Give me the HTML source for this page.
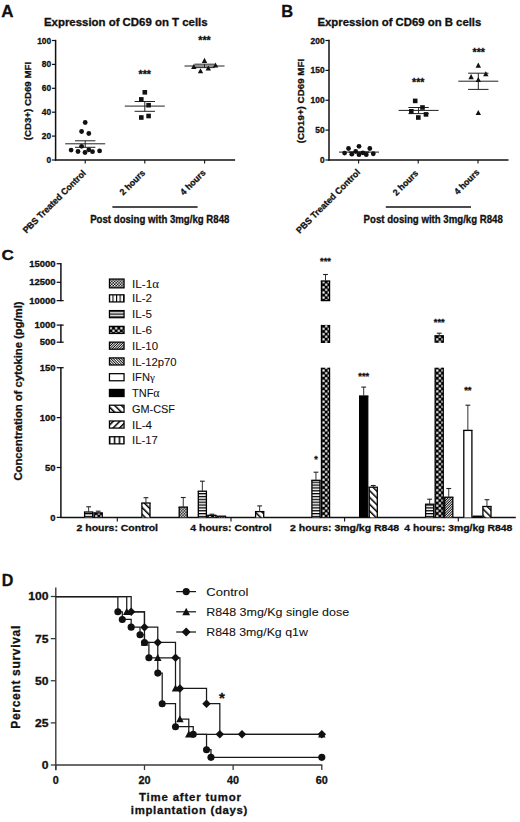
<!DOCTYPE html>
<html><head><meta charset="utf-8"><title>Figure</title>
<style>
html,body{margin:0;padding:0;background:#fff;}
svg{display:block;}
text{font-family:"Liberation Sans", sans-serif;}
text[font-weight="bold"]{stroke:#111;stroke-width:0.3px;}
text[font-weight="normal"]{stroke:#111;stroke-width:0.08px;}
</style></head>
<body>
<svg width="520" height="822" viewBox="0 0 520 822" font-family="Liberation Sans, sans-serif" fill="#111">
<rect width="520" height="822" fill="#fff"/>

<defs>
 <pattern id="pIL1" patternUnits="userSpaceOnUse" width="2.85" height="2.85">
  <rect width="2.85" height="2.85" fill="#000"/>
  <rect x="0" y="0" width="1.45" height="1.45" fill="#fff"/>
  <rect x="1.425" y="1.425" width="1.45" height="1.45" fill="#fff"/>
 </pattern>
 <pattern id="pIL2" patternUnits="userSpaceOnUse" x="2.09" width="3.56" height="4">
  <rect width="3.56" height="4" fill="#fff"/>
  <rect x="0" y="0" width="1.1" height="4" fill="#000"/>
 </pattern>
 <pattern id="pIL5" patternUnits="userSpaceOnUse" width="4" height="2.85">
  <rect width="4" height="2.85" fill="#fff"/>
  <rect x="0" y="0" width="4" height="1.3" fill="#000"/>
 </pattern>
 <pattern id="pIL6" patternUnits="userSpaceOnUse" width="5.3" height="5.2">
  <rect width="5.3" height="5.2" fill="#000"/>
  <rect x="0.25" y="0.25" width="2.15" height="2.1" fill="#fff"/>
  <rect x="2.9" y="2.85" width="2.15" height="2.1" fill="#fff"/>
 </pattern>
 <pattern id="pIL10" patternUnits="userSpaceOnUse" width="1.75" height="4" patternTransform="rotate(45)">
  <rect width="1.75" height="4" fill="#fff"/>
  <rect x="0" y="0" width="0.85" height="4" fill="#000"/>
 </pattern>
 <pattern id="pIL12" patternUnits="userSpaceOnUse" width="1.85" height="4" patternTransform="rotate(-45)">
  <rect width="1.85" height="4" fill="#fff"/>
  <rect x="0" y="0" width="0.85" height="4" fill="#000"/>
 </pattern>
 <pattern id="pGM" patternUnits="userSpaceOnUse" width="4.8" height="4.8" patternTransform="rotate(-45)">
  <rect width="4.8" height="4.8" fill="#fff"/>
  <rect x="0" y="0" width="1.5" height="4.8" fill="#000"/>
 </pattern>
 <pattern id="pIL4" patternUnits="userSpaceOnUse" width="4.6" height="4.6" patternTransform="rotate(45)">
  <rect width="4.6" height="4.6" fill="#fff"/>
  <rect x="0" y="0" width="1.5" height="4.6" fill="#000"/>
 </pattern>
 <pattern id="pIL17" patternUnits="userSpaceOnUse" x="1.05" width="4.9" height="4">
  <rect width="4.9" height="4" fill="#fff"/>
  <rect x="0" y="0" width="1.5" height="4" fill="#000"/>
 </pattern>
</defs>

<defs><pattern id="pIL6g0" patternUnits="userSpaceOnUse" x="94.90" y="0.00" width="5.3" height="5.2">
  <rect width="5.3" height="5.2" fill="#000"/>
  <rect x="0.25" y="0.25" width="2.15" height="2.1" fill="#fff"/>
  <rect x="2.9" y="2.85" width="2.15" height="2.1" fill="#fff"/>
 </pattern><pattern id="pIL6g1" patternUnits="userSpaceOnUse" x="208.60" y="0.00" width="5.3" height="5.2">
  <rect width="5.3" height="5.2" fill="#000"/>
  <rect x="0.25" y="0.25" width="2.15" height="2.1" fill="#fff"/>
  <rect x="2.9" y="2.85" width="2.15" height="2.1" fill="#fff"/>
 </pattern><pattern id="pIL6g2" patternUnits="userSpaceOnUse" x="322.20" y="0.00" width="5.3" height="5.2">
  <rect width="5.3" height="5.2" fill="#000"/>
  <rect x="0.25" y="0.25" width="2.15" height="2.1" fill="#fff"/>
  <rect x="2.9" y="2.85" width="2.15" height="2.1" fill="#fff"/>
 </pattern><pattern id="pIL6g3" patternUnits="userSpaceOnUse" x="435.90" y="0.00" width="5.3" height="5.2">
  <rect width="5.3" height="5.2" fill="#000"/>
  <rect x="0.25" y="0.25" width="2.15" height="2.1" fill="#fff"/>
  <rect x="2.9" y="2.85" width="2.15" height="2.1" fill="#fff"/>
 </pattern><pattern id="pIL6leg" patternUnits="userSpaceOnUse" x="109.50" y="326.96" width="5.3" height="5.2">
  <rect width="5.3" height="5.2" fill="#000"/>
  <rect x="0.25" y="0.25" width="2.15" height="2.1" fill="#fff"/>
  <rect x="2.9" y="2.85" width="2.15" height="2.1" fill="#fff"/>
 </pattern></defs>
<text x="1.20" y="16.60" font-size="17" font-weight="bold">A</text>
<line x1="55.60" y1="39.80" x2="55.60" y2="160.75" stroke="#111" stroke-width="1.5"/>
<line x1="55.00" y1="160.00" x2="235.10" y2="160.00" stroke="#111" stroke-width="1.5"/>
<line x1="52.00" y1="160.00" x2="55.60" y2="160.00" stroke="#111" stroke-width="1.2"/>
<text x="51.20" y="163.00" font-size="8.4" font-weight="bold" text-anchor="end">0</text>
<line x1="52.00" y1="136.10" x2="55.60" y2="136.10" stroke="#111" stroke-width="1.2"/>
<text x="51.20" y="139.10" font-size="8.4" font-weight="bold" text-anchor="end">20</text>
<line x1="52.00" y1="112.20" x2="55.60" y2="112.20" stroke="#111" stroke-width="1.2"/>
<text x="51.20" y="115.20" font-size="8.4" font-weight="bold" text-anchor="end">40</text>
<line x1="52.00" y1="88.30" x2="55.60" y2="88.30" stroke="#111" stroke-width="1.2"/>
<text x="51.20" y="91.30" font-size="8.4" font-weight="bold" text-anchor="end">60</text>
<line x1="52.00" y1="64.40" x2="55.60" y2="64.40" stroke="#111" stroke-width="1.2"/>
<text x="51.20" y="67.40" font-size="8.4" font-weight="bold" text-anchor="end">80</text>
<line x1="52.00" y1="40.50" x2="55.60" y2="40.50" stroke="#111" stroke-width="1.2"/>
<text x="51.20" y="43.50" font-size="8.4" font-weight="bold" text-anchor="end">100</text>
<line x1="85.20" y1="160.00" x2="85.20" y2="163.40" stroke="#111" stroke-width="1.1"/>
<line x1="144.80" y1="160.00" x2="144.80" y2="163.40" stroke="#111" stroke-width="1.1"/>
<line x1="204.60" y1="160.00" x2="204.60" y2="163.40" stroke="#111" stroke-width="1.1"/>
<text x="44.00" y="26.20" font-size="10.3" font-weight="bold" textLength="163.60" lengthAdjust="spacingAndGlyphs">Expression of CD69 on T cells</text>
<text x="31.00" y="101.10" font-size="9.8" font-weight="bold" text-anchor="middle" textLength="78.50" lengthAdjust="spacingAndGlyphs" transform="rotate(-90 31.00 101.10)">(CD3+) CD69 MFI</text>
<text x="86.40" y="173.80" font-size="9.0" font-weight="bold" text-anchor="end" textLength="84.80" lengthAdjust="spacingAndGlyphs" transform="rotate(-45 86.40 173.80)">PBS Treated Control</text>
<text x="145.60" y="173.50" font-size="9.0" font-weight="bold" text-anchor="end" textLength="31.60" lengthAdjust="spacingAndGlyphs" transform="rotate(-45 145.60 173.50)">2 hours</text>
<text x="206.20" y="173.30" font-size="9.0" font-weight="bold" text-anchor="end" textLength="31.60" lengthAdjust="spacingAndGlyphs" transform="rotate(-45 206.20 173.30)">4 hours</text>
<line x1="112.40" y1="207.00" x2="197.60" y2="207.00" stroke="#111" stroke-width="1.3"/>
<text x="90.20" y="223.00" font-size="10.0" font-weight="bold" textLength="139.20" lengthAdjust="spacingAndGlyphs">Post dosing with 3mg/kg R848</text>
<line x1="65.20" y1="143.80" x2="105.20" y2="143.80" stroke="#222" stroke-width="1.0"/>
<line x1="75.00" y1="140.80" x2="95.40" y2="140.80" stroke="#222" stroke-width="1.0"/>
<line x1="75.00" y1="147.30" x2="95.40" y2="147.30" stroke="#222" stroke-width="1.0"/>
<line x1="85.20" y1="140.80" x2="85.20" y2="147.30" stroke="#222" stroke-width="1.0"/>
<line x1="124.80" y1="106.10" x2="164.80" y2="106.10" stroke="#222" stroke-width="1.0"/>
<line x1="134.60" y1="101.50" x2="155.00" y2="101.50" stroke="#222" stroke-width="1.0"/>
<line x1="134.60" y1="111.30" x2="155.00" y2="111.30" stroke="#222" stroke-width="1.0"/>
<line x1="144.80" y1="101.50" x2="144.80" y2="111.30" stroke="#222" stroke-width="1.0"/>
<line x1="184.50" y1="66.00" x2="224.50" y2="66.00" stroke="#222" stroke-width="1.0"/>
<line x1="194.30" y1="64.20" x2="214.70" y2="64.20" stroke="#222" stroke-width="1.0"/>
<line x1="194.30" y1="67.60" x2="214.70" y2="67.60" stroke="#222" stroke-width="1.0"/>
<line x1="204.50" y1="64.20" x2="204.50" y2="67.60" stroke="#222" stroke-width="1.0"/>
<text x="144.80" y="78.40" font-size="10.0" font-weight="bold" text-anchor="middle" textLength="12.40" lengthAdjust="spacingAndGlyphs">***</text>
<text x="204.50" y="44.30" font-size="10.0" font-weight="bold" text-anchor="middle" textLength="12.40" lengthAdjust="spacingAndGlyphs">***</text>
<circle cx="85.20" cy="122.50" r="2.4" fill="#111"/>
<circle cx="81.60" cy="131.50" r="2.4" fill="#111"/>
<circle cx="88.80" cy="133.50" r="2.4" fill="#111"/>
<circle cx="81.60" cy="146.30" r="2.4" fill="#111"/>
<circle cx="71.10" cy="150.10" r="2.4" fill="#111"/>
<circle cx="78.00" cy="151.50" r="2.4" fill="#111"/>
<circle cx="85.00" cy="152.50" r="2.4" fill="#111"/>
<circle cx="88.80" cy="149.80" r="2.4" fill="#111"/>
<circle cx="92.50" cy="151.70" r="2.4" fill="#111"/>
<circle cx="99.60" cy="150.90" r="2.4" fill="#111"/>
<rect x="142.50" y="90.00" width="4.60" height="4.60" fill="#111"/>
<rect x="139.00" y="97.10" width="4.60" height="4.60" fill="#111"/>
<rect x="146.30" y="102.90" width="4.60" height="4.60" fill="#111"/>
<rect x="139.00" y="115.20" width="4.60" height="4.60" fill="#111"/>
<rect x="146.30" y="113.70" width="4.60" height="4.60" fill="#111"/>
<path d="M204.50 57.78 L207.20 62.91 L201.80 62.91 Z" fill="#111"/>
<path d="M193.80 63.88 L196.50 69.01 L191.10 69.01 Z" fill="#111"/>
<path d="M200.50 68.18 L203.20 73.31 L197.80 73.31 Z" fill="#111"/>
<path d="M208.30 65.48 L211.00 70.61 L205.60 70.61 Z" fill="#111"/>
<path d="M215.50 62.38 L218.20 67.51 L212.80 67.51 Z" fill="#111"/>
<text x="281.20" y="17.00" font-size="16.5" font-weight="bold">B</text>
<line x1="329.00" y1="39.80" x2="329.00" y2="160.75" stroke="#111" stroke-width="1.5"/>
<line x1="328.40" y1="160.00" x2="508.50" y2="160.00" stroke="#111" stroke-width="1.5"/>
<line x1="325.40" y1="160.00" x2="329.00" y2="160.00" stroke="#111" stroke-width="1.2"/>
<text x="324.60" y="163.00" font-size="8.4" font-weight="bold" text-anchor="end">0</text>
<line x1="325.40" y1="130.12" x2="329.00" y2="130.12" stroke="#111" stroke-width="1.2"/>
<text x="324.60" y="133.12" font-size="8.4" font-weight="bold" text-anchor="end">50</text>
<line x1="325.40" y1="100.25" x2="329.00" y2="100.25" stroke="#111" stroke-width="1.2"/>
<text x="324.60" y="103.25" font-size="8.4" font-weight="bold" text-anchor="end">100</text>
<line x1="325.40" y1="70.38" x2="329.00" y2="70.38" stroke="#111" stroke-width="1.2"/>
<text x="324.60" y="73.38" font-size="8.4" font-weight="bold" text-anchor="end">150</text>
<line x1="325.40" y1="40.50" x2="329.00" y2="40.50" stroke="#111" stroke-width="1.2"/>
<text x="324.60" y="43.50" font-size="8.4" font-weight="bold" text-anchor="end">200</text>
<line x1="358.60" y1="160.00" x2="358.60" y2="163.40" stroke="#111" stroke-width="1.1"/>
<line x1="418.20" y1="160.00" x2="418.20" y2="163.40" stroke="#111" stroke-width="1.1"/>
<line x1="478.00" y1="160.00" x2="478.00" y2="163.40" stroke="#111" stroke-width="1.1"/>
<text x="317.50" y="26.20" font-size="10.3" font-weight="bold" textLength="163.80" lengthAdjust="spacingAndGlyphs">Expression of CD69 on B cells</text>
<text x="304.40" y="101.10" font-size="9.8" font-weight="bold" text-anchor="middle" textLength="84.50" lengthAdjust="spacingAndGlyphs" transform="rotate(-90 304.40 101.10)">(CD19+) CD69 MFI</text>
<text x="360.80" y="172.80" font-size="9.0" font-weight="bold" text-anchor="end" textLength="86.40" lengthAdjust="spacingAndGlyphs" transform="rotate(-45 360.80 172.80)">PBS Treated Control</text>
<text x="418.80" y="173.80" font-size="9.0" font-weight="bold" text-anchor="end" textLength="31.60" lengthAdjust="spacingAndGlyphs" transform="rotate(-45 418.80 173.80)">2 hours</text>
<text x="480.00" y="172.80" font-size="9.0" font-weight="bold" text-anchor="end" textLength="31.60" lengthAdjust="spacingAndGlyphs" transform="rotate(-45 480.00 172.80)">4 hours</text>
<line x1="385.80" y1="207.00" x2="471.00" y2="207.00" stroke="#111" stroke-width="1.3"/>
<text x="363.60" y="223.00" font-size="10.0" font-weight="bold" textLength="139.20" lengthAdjust="spacingAndGlyphs">Post dosing with 3mg/kg R848</text>
<line x1="339.00" y1="152.10" x2="379.00" y2="152.10" stroke="#222" stroke-width="1.0"/>
<line x1="348.80" y1="152.10" x2="369.20" y2="152.10" stroke="#222" stroke-width="1.0"/>
<line x1="348.80" y1="152.10" x2="369.20" y2="152.10" stroke="#222" stroke-width="1.0"/>
<line x1="359.00" y1="152.10" x2="359.00" y2="152.10" stroke="#222" stroke-width="1.0"/>
<line x1="398.60" y1="110.40" x2="438.60" y2="110.40" stroke="#222" stroke-width="1.0"/>
<line x1="408.40" y1="107.50" x2="428.80" y2="107.50" stroke="#222" stroke-width="1.0"/>
<line x1="408.40" y1="113.60" x2="428.80" y2="113.60" stroke="#222" stroke-width="1.0"/>
<line x1="418.60" y1="107.50" x2="418.60" y2="113.60" stroke="#222" stroke-width="1.0"/>
<line x1="458.30" y1="81.20" x2="498.30" y2="81.20" stroke="#222" stroke-width="1.0"/>
<line x1="468.10" y1="73.20" x2="488.50" y2="73.20" stroke="#222" stroke-width="1.0"/>
<line x1="468.10" y1="89.40" x2="488.50" y2="89.40" stroke="#222" stroke-width="1.0"/>
<line x1="478.30" y1="73.20" x2="478.30" y2="89.40" stroke="#222" stroke-width="1.0"/>
<text x="418.30" y="86.00" font-size="10.0" font-weight="bold" text-anchor="middle" textLength="12.40" lengthAdjust="spacingAndGlyphs">***</text>
<text x="478.80" y="55.80" font-size="10.0" font-weight="bold" text-anchor="middle" textLength="12.40" lengthAdjust="spacingAndGlyphs">***</text>
<circle cx="359.00" cy="146.30" r="2.4" fill="#111"/>
<circle cx="348.50" cy="148.50" r="2.4" fill="#111"/>
<circle cx="369.80" cy="148.50" r="2.4" fill="#111"/>
<circle cx="344.60" cy="153.10" r="2.4" fill="#111"/>
<circle cx="351.80" cy="154.20" r="2.4" fill="#111"/>
<circle cx="355.70" cy="151.50" r="2.4" fill="#111"/>
<circle cx="359.00" cy="154.70" r="2.4" fill="#111"/>
<circle cx="362.90" cy="152.80" r="2.4" fill="#111"/>
<circle cx="366.30" cy="154.70" r="2.4" fill="#111"/>
<circle cx="373.30" cy="153.75" r="2.4" fill="#111"/>
<rect x="412.90" y="98.60" width="4.60" height="4.60" fill="#111"/>
<rect x="420.20" y="105.20" width="4.60" height="4.60" fill="#111"/>
<rect x="409.00" y="109.00" width="4.60" height="4.60" fill="#111"/>
<rect x="423.70" y="112.10" width="4.60" height="4.60" fill="#111"/>
<rect x="416.00" y="115.20" width="4.60" height="4.60" fill="#111"/>
<path d="M478.30 62.58 L481.00 67.71 L475.60 67.71 Z" fill="#111"/>
<path d="M485.80 71.18 L488.50 76.31 L483.10 76.31 Z" fill="#111"/>
<path d="M471.10 74.08 L473.80 79.21 L468.40 79.21 Z" fill="#111"/>
<path d="M478.30 76.98 L481.00 82.11 L475.60 82.11 Z" fill="#111"/>
<path d="M478.30 109.88 L481.00 115.01 L475.60 115.01 Z" fill="#111"/>
<text x="1.40" y="259.90" font-size="15.5" font-weight="bold" textLength="12.40" lengthAdjust="spacingAndGlyphs">C</text>
<line x1="60.90" y1="263.00" x2="60.90" y2="301.30" stroke="#111" stroke-width="1.5"/>
<line x1="60.90" y1="324.40" x2="60.90" y2="342.90" stroke="#111" stroke-width="1.5"/>
<line x1="60.90" y1="367.00" x2="60.90" y2="518.10" stroke="#111" stroke-width="1.5"/>
<line x1="56.70" y1="263.70" x2="60.90" y2="263.70" stroke="#111" stroke-width="1.25"/>
<text x="55.60" y="266.80" font-size="8.8" font-weight="bold" text-anchor="end" textLength="26.25" lengthAdjust="spacingAndGlyphs">15000</text>
<line x1="56.70" y1="282.30" x2="60.90" y2="282.30" stroke="#111" stroke-width="1.25"/>
<text x="55.60" y="285.40" font-size="8.8" font-weight="bold" text-anchor="end" textLength="26.25" lengthAdjust="spacingAndGlyphs">12500</text>
<line x1="56.70" y1="300.60" x2="63.70" y2="300.60" stroke="#111" stroke-width="1.25"/>
<text x="55.60" y="303.70" font-size="8.8" font-weight="bold" text-anchor="end" textLength="26.25" lengthAdjust="spacingAndGlyphs">10000</text>
<line x1="56.70" y1="325.10" x2="63.70" y2="325.10" stroke="#111" stroke-width="1.25"/>
<text x="55.60" y="328.20" font-size="8.8" font-weight="bold" text-anchor="end" textLength="21.00" lengthAdjust="spacingAndGlyphs">1000</text>
<line x1="56.70" y1="342.20" x2="63.70" y2="342.20" stroke="#111" stroke-width="1.25"/>
<text x="55.60" y="345.30" font-size="8.8" font-weight="bold" text-anchor="end" textLength="15.75" lengthAdjust="spacingAndGlyphs">500</text>
<line x1="56.70" y1="367.70" x2="63.70" y2="367.70" stroke="#111" stroke-width="1.25"/>
<text x="55.60" y="370.80" font-size="8.8" font-weight="bold" text-anchor="end" textLength="15.75" lengthAdjust="spacingAndGlyphs">150</text>
<line x1="56.70" y1="417.60" x2="60.90" y2="417.60" stroke="#111" stroke-width="1.25"/>
<text x="55.60" y="420.70" font-size="8.8" font-weight="bold" text-anchor="end" textLength="15.75" lengthAdjust="spacingAndGlyphs">100</text>
<line x1="56.70" y1="467.50" x2="60.90" y2="467.50" stroke="#111" stroke-width="1.25"/>
<text x="55.60" y="470.60" font-size="8.8" font-weight="bold" text-anchor="end" textLength="10.50" lengthAdjust="spacingAndGlyphs">50</text>
<line x1="56.70" y1="517.40" x2="60.90" y2="517.40" stroke="#111" stroke-width="1.25"/>
<text x="55.60" y="520.50" font-size="8.8" font-weight="bold" text-anchor="end" textLength="5.25" lengthAdjust="spacingAndGlyphs">0</text>
<line x1="60.30" y1="517.40" x2="515.80" y2="517.40" stroke="#111" stroke-width="1.5"/>
<line x1="117.30" y1="517.40" x2="117.30" y2="521.60" stroke="#111" stroke-width="1.1"/>
<line x1="231.00" y1="517.40" x2="231.00" y2="521.60" stroke="#111" stroke-width="1.1"/>
<line x1="344.60" y1="517.40" x2="344.60" y2="521.60" stroke="#111" stroke-width="1.1"/>
<line x1="458.30" y1="517.40" x2="458.30" y2="521.60" stroke="#111" stroke-width="1.1"/>
<text x="21.90" y="391.00" font-size="10.2" font-weight="bold" text-anchor="middle" textLength="179.00" lengthAdjust="spacingAndGlyphs" transform="rotate(-90 21.90 391.00)">Concentration of cytokine (pg/ml)</text>
<text x="117.30" y="531.30" font-size="9.6" font-weight="bold" text-anchor="middle" textLength="81.50" lengthAdjust="spacingAndGlyphs">2 hours: Control</text>
<text x="231.00" y="531.30" font-size="9.6" font-weight="bold" text-anchor="middle" textLength="81.50" lengthAdjust="spacingAndGlyphs">4 hours: Control</text>
<text x="344.60" y="531.30" font-size="9.6" font-weight="bold" text-anchor="middle" textLength="109.00" lengthAdjust="spacingAndGlyphs">2 hours: 3mg/kg R848</text>
<text x="458.30" y="531.30" font-size="9.6" font-weight="bold" text-anchor="middle" textLength="108.00" lengthAdjust="spacingAndGlyphs">4 hours: 3mg/kg R848</text>
<rect x="84.60" y="512.00" width="8.10" height="5.40" fill="url(#pIL5)"/>
<line x1="84.60" y1="512.00" x2="84.60" y2="517.40" stroke="#000" stroke-width="1.3"/>
<line x1="92.70" y1="512.00" x2="92.70" y2="517.40" stroke="#000" stroke-width="1.3"/>
<line x1="83.95" y1="512.00" x2="93.35" y2="512.00" stroke="#000" stroke-width="1.3"/>
<line x1="88.65" y1="506.80" x2="88.65" y2="512.00" stroke="#333" stroke-width="1.0"/>
<line x1="86.25" y1="506.80" x2="91.05" y2="506.80" stroke="#222" stroke-width="1.1"/>
<rect x="94.15" y="512.90" width="8.10" height="4.50" fill="url(#pIL6g0)"/>
<line x1="94.15" y1="512.90" x2="94.15" y2="517.40" stroke="#000" stroke-width="1.3"/>
<line x1="102.25" y1="512.90" x2="102.25" y2="517.40" stroke="#000" stroke-width="1.3"/>
<line x1="93.50" y1="512.90" x2="102.90" y2="512.90" stroke="#000" stroke-width="1.3"/>
<line x1="98.20" y1="511.20" x2="98.20" y2="512.90" stroke="#333" stroke-width="1.0"/>
<line x1="95.80" y1="511.20" x2="100.60" y2="511.20" stroke="#222" stroke-width="1.1"/>
<rect x="141.90" y="503.00" width="8.10" height="14.40" fill="url(#pGM)"/>
<line x1="141.90" y1="503.00" x2="141.90" y2="517.40" stroke="#000" stroke-width="1.3"/>
<line x1="150.00" y1="503.00" x2="150.00" y2="517.40" stroke="#000" stroke-width="1.3"/>
<line x1="141.25" y1="503.00" x2="150.65" y2="503.00" stroke="#000" stroke-width="1.3"/>
<line x1="145.95" y1="497.70" x2="145.95" y2="503.00" stroke="#333" stroke-width="1.0"/>
<line x1="143.55" y1="497.70" x2="148.35" y2="497.70" stroke="#222" stroke-width="1.1"/>
<rect x="179.20" y="507.10" width="8.10" height="10.30" fill="url(#pIL1)"/>
<line x1="179.20" y1="507.10" x2="179.20" y2="517.40" stroke="#000" stroke-width="1.3"/>
<line x1="187.30" y1="507.10" x2="187.30" y2="517.40" stroke="#000" stroke-width="1.3"/>
<line x1="178.55" y1="507.10" x2="187.95" y2="507.10" stroke="#000" stroke-width="1.3"/>
<line x1="183.25" y1="497.50" x2="183.25" y2="507.10" stroke="#333" stroke-width="1.0"/>
<line x1="180.85" y1="497.50" x2="185.65" y2="497.50" stroke="#222" stroke-width="1.1"/>
<rect x="198.30" y="491.20" width="8.10" height="26.20" fill="url(#pIL5)"/>
<line x1="198.30" y1="491.20" x2="198.30" y2="517.40" stroke="#000" stroke-width="1.3"/>
<line x1="206.40" y1="491.20" x2="206.40" y2="517.40" stroke="#000" stroke-width="1.3"/>
<line x1="197.65" y1="491.20" x2="207.05" y2="491.20" stroke="#000" stroke-width="1.3"/>
<line x1="202.35" y1="481.20" x2="202.35" y2="491.20" stroke="#333" stroke-width="1.0"/>
<line x1="199.95" y1="481.20" x2="204.75" y2="481.20" stroke="#222" stroke-width="1.1"/>
<rect x="207.85" y="515.30" width="8.10" height="2.10" fill="url(#pIL6g1)"/>
<line x1="207.85" y1="515.30" x2="207.85" y2="517.40" stroke="#000" stroke-width="1.3"/>
<line x1="215.95" y1="515.30" x2="215.95" y2="517.40" stroke="#000" stroke-width="1.3"/>
<line x1="207.20" y1="515.30" x2="216.60" y2="515.30" stroke="#000" stroke-width="1.3"/>
<line x1="211.90" y1="514.20" x2="211.90" y2="515.30" stroke="#333" stroke-width="1.0"/>
<line x1="209.50" y1="514.20" x2="214.30" y2="514.20" stroke="#222" stroke-width="1.1"/>
<rect x="217.40" y="516.20" width="8.10" height="1.20" fill="url(#pIL10)"/>
<line x1="217.40" y1="516.20" x2="217.40" y2="517.40" stroke="#000" stroke-width="1.3"/>
<line x1="225.50" y1="516.20" x2="225.50" y2="517.40" stroke="#000" stroke-width="1.3"/>
<line x1="216.75" y1="516.20" x2="226.15" y2="516.20" stroke="#000" stroke-width="1.3"/>
<rect x="255.60" y="511.60" width="8.10" height="5.80" fill="url(#pGM)"/>
<line x1="255.60" y1="511.60" x2="255.60" y2="517.40" stroke="#000" stroke-width="1.3"/>
<line x1="263.70" y1="511.60" x2="263.70" y2="517.40" stroke="#000" stroke-width="1.3"/>
<line x1="254.95" y1="511.60" x2="264.35" y2="511.60" stroke="#000" stroke-width="1.3"/>
<line x1="259.65" y1="505.90" x2="259.65" y2="511.60" stroke="#333" stroke-width="1.0"/>
<line x1="257.25" y1="505.90" x2="262.05" y2="505.90" stroke="#222" stroke-width="1.1"/>
<rect x="311.90" y="480.30" width="8.10" height="37.10" fill="url(#pIL5)"/>
<line x1="311.90" y1="480.30" x2="311.90" y2="517.40" stroke="#000" stroke-width="1.3"/>
<line x1="320.00" y1="480.30" x2="320.00" y2="517.40" stroke="#000" stroke-width="1.3"/>
<line x1="311.25" y1="480.30" x2="320.65" y2="480.30" stroke="#000" stroke-width="1.3"/>
<line x1="315.95" y1="472.20" x2="315.95" y2="480.30" stroke="#333" stroke-width="1.0"/>
<line x1="313.55" y1="472.20" x2="318.35" y2="472.20" stroke="#222" stroke-width="1.1"/>
<text x="315.95" y="461.89" font-size="9.0" font-weight="bold" text-anchor="middle">*</text>
<rect x="321.45" y="281.00" width="8.10" height="19.60" fill="url(#pIL6g2)"/>
<line x1="321.45" y1="281.00" x2="321.45" y2="300.60" stroke="#000" stroke-width="1.3"/>
<line x1="329.55" y1="281.00" x2="329.55" y2="300.60" stroke="#000" stroke-width="1.3"/>
<line x1="320.80" y1="281.00" x2="330.20" y2="281.00" stroke="#000" stroke-width="1.3"/>
<line x1="320.80" y1="300.60" x2="330.20" y2="300.60" stroke="#000" stroke-width="1.3"/>
<rect x="321.45" y="324.90" width="8.10" height="18.10" fill="url(#pIL6g2)"/>
<line x1="321.45" y1="324.90" x2="321.45" y2="343.00" stroke="#000" stroke-width="1.3"/>
<line x1="329.55" y1="324.90" x2="329.55" y2="343.00" stroke="#000" stroke-width="1.3"/>
<rect x="321.45" y="367.70" width="8.10" height="149.70" fill="url(#pIL6g2)"/>
<line x1="321.45" y1="367.70" x2="321.45" y2="517.40" stroke="#000" stroke-width="1.3"/>
<line x1="329.55" y1="367.70" x2="329.55" y2="517.40" stroke="#000" stroke-width="1.3"/>
<line x1="325.50" y1="274.50" x2="325.50" y2="281.00" stroke="#333" stroke-width="1.0"/>
<line x1="323.10" y1="274.50" x2="327.90" y2="274.50" stroke="#222" stroke-width="1.1"/>
<text x="325.50" y="264.39" font-size="9.0" font-weight="bold" text-anchor="middle" textLength="10.80" lengthAdjust="spacingAndGlyphs">***</text>
<rect x="359.65" y="396.00" width="8.10" height="121.40" fill="#000"/>
<line x1="359.65" y1="396.00" x2="359.65" y2="517.40" stroke="#000" stroke-width="1.3"/>
<line x1="367.75" y1="396.00" x2="367.75" y2="517.40" stroke="#000" stroke-width="1.3"/>
<line x1="359.00" y1="396.00" x2="368.40" y2="396.00" stroke="#000" stroke-width="1.3"/>
<line x1="363.70" y1="387.10" x2="363.70" y2="396.00" stroke="#333" stroke-width="1.0"/>
<line x1="361.30" y1="387.10" x2="366.10" y2="387.10" stroke="#222" stroke-width="1.1"/>
<text x="363.70" y="378.99" font-size="9.0" font-weight="bold" text-anchor="middle" textLength="10.80" lengthAdjust="spacingAndGlyphs">***</text>
<rect x="369.20" y="487.20" width="8.10" height="30.20" fill="url(#pGM)"/>
<line x1="369.20" y1="487.20" x2="369.20" y2="517.40" stroke="#000" stroke-width="1.3"/>
<line x1="377.30" y1="487.20" x2="377.30" y2="517.40" stroke="#000" stroke-width="1.3"/>
<line x1="368.55" y1="487.20" x2="377.95" y2="487.20" stroke="#000" stroke-width="1.3"/>
<line x1="373.25" y1="485.50" x2="373.25" y2="487.20" stroke="#333" stroke-width="1.0"/>
<line x1="370.85" y1="485.50" x2="375.65" y2="485.50" stroke="#222" stroke-width="1.1"/>
<rect x="425.60" y="504.20" width="8.10" height="13.20" fill="url(#pIL5)"/>
<line x1="425.60" y1="504.20" x2="425.60" y2="517.40" stroke="#000" stroke-width="1.3"/>
<line x1="433.70" y1="504.20" x2="433.70" y2="517.40" stroke="#000" stroke-width="1.3"/>
<line x1="424.95" y1="504.20" x2="434.35" y2="504.20" stroke="#000" stroke-width="1.3"/>
<line x1="429.65" y1="499.20" x2="429.65" y2="504.20" stroke="#333" stroke-width="1.0"/>
<line x1="427.25" y1="499.20" x2="432.05" y2="499.20" stroke="#222" stroke-width="1.1"/>
<rect x="435.15" y="335.80" width="8.10" height="7.00" fill="url(#pIL6g3)"/>
<line x1="435.15" y1="335.80" x2="435.15" y2="342.80" stroke="#000" stroke-width="1.3"/>
<line x1="443.25" y1="335.80" x2="443.25" y2="342.80" stroke="#000" stroke-width="1.3"/>
<line x1="434.50" y1="335.80" x2="443.90" y2="335.80" stroke="#000" stroke-width="1.3"/>
<rect x="435.15" y="367.70" width="8.10" height="149.70" fill="url(#pIL6g3)"/>
<line x1="435.15" y1="367.70" x2="435.15" y2="517.40" stroke="#000" stroke-width="1.3"/>
<line x1="443.25" y1="367.70" x2="443.25" y2="517.40" stroke="#000" stroke-width="1.3"/>
<line x1="439.20" y1="333.20" x2="439.20" y2="335.80" stroke="#333" stroke-width="1.0"/>
<line x1="436.80" y1="333.20" x2="441.60" y2="333.20" stroke="#222" stroke-width="1.1"/>
<text x="439.20" y="324.59" font-size="9.0" font-weight="bold" text-anchor="middle" textLength="10.80" lengthAdjust="spacingAndGlyphs">***</text>
<rect x="444.70" y="497.20" width="8.10" height="20.20" fill="url(#pIL10)"/>
<line x1="444.70" y1="497.20" x2="444.70" y2="517.40" stroke="#000" stroke-width="1.3"/>
<line x1="452.80" y1="497.20" x2="452.80" y2="517.40" stroke="#000" stroke-width="1.3"/>
<line x1="444.05" y1="497.20" x2="453.45" y2="497.20" stroke="#000" stroke-width="1.3"/>
<line x1="448.75" y1="488.50" x2="448.75" y2="497.20" stroke="#333" stroke-width="1.0"/>
<line x1="446.35" y1="488.50" x2="451.15" y2="488.50" stroke="#222" stroke-width="1.1"/>
<rect x="463.80" y="430.40" width="8.10" height="87.00" fill="#fff"/>
<line x1="463.80" y1="430.40" x2="463.80" y2="517.40" stroke="#000" stroke-width="1.3"/>
<line x1="471.90" y1="430.40" x2="471.90" y2="517.40" stroke="#000" stroke-width="1.3"/>
<line x1="463.15" y1="430.40" x2="472.55" y2="430.40" stroke="#000" stroke-width="1.3"/>
<line x1="467.85" y1="405.20" x2="467.85" y2="430.40" stroke="#333" stroke-width="1.0"/>
<line x1="465.45" y1="405.20" x2="470.25" y2="405.20" stroke="#222" stroke-width="1.1"/>
<text x="467.85" y="393.19" font-size="9.0" font-weight="bold" text-anchor="middle" textLength="7.40" lengthAdjust="spacingAndGlyphs">**</text>
<rect x="473.35" y="516.20" width="8.10" height="1.20" fill="#000"/>
<line x1="473.35" y1="516.20" x2="473.35" y2="517.40" stroke="#000" stroke-width="1.3"/>
<line x1="481.45" y1="516.20" x2="481.45" y2="517.40" stroke="#000" stroke-width="1.3"/>
<line x1="472.70" y1="516.20" x2="482.10" y2="516.20" stroke="#000" stroke-width="1.3"/>
<rect x="482.90" y="506.50" width="8.10" height="10.90" fill="url(#pGM)"/>
<line x1="482.90" y1="506.50" x2="482.90" y2="517.40" stroke="#000" stroke-width="1.3"/>
<line x1="491.00" y1="506.50" x2="491.00" y2="517.40" stroke="#000" stroke-width="1.3"/>
<line x1="482.25" y1="506.50" x2="491.65" y2="506.50" stroke="#000" stroke-width="1.3"/>
<line x1="486.95" y1="499.70" x2="486.95" y2="506.50" stroke="#333" stroke-width="1.0"/>
<line x1="484.55" y1="499.70" x2="489.35" y2="499.70" stroke="#222" stroke-width="1.1"/>
<rect x="109.45" y="279.05" width="14.60" height="8.80" fill="url(#pIL1)" stroke="#000" stroke-width="1.25"/>
<text x="132.00" y="287.75" font-size="10.6" font-weight="normal" textLength="27.00" lengthAdjust="spacingAndGlyphs">IL-1<tspan font-family="Liberation Serif" font-size="11.5">&#945;</tspan></text>
<rect x="109.45" y="294.82" width="14.60" height="7.10" fill="url(#pIL2)" stroke="#000" stroke-width="1.25"/>
<text x="132.00" y="302.42" font-size="10.6" font-weight="normal" textLength="20.00" lengthAdjust="spacingAndGlyphs">IL-2</text>
<rect x="109.45" y="310.59" width="14.60" height="7.10" fill="url(#pIL5)" stroke="#000" stroke-width="1.25"/>
<text x="132.00" y="318.19" font-size="10.6" font-weight="normal" textLength="20.00" lengthAdjust="spacingAndGlyphs">IL-5</text>
<rect x="109.45" y="326.36" width="14.60" height="7.10" fill="url(#pIL6leg)" stroke="#000" stroke-width="1.25"/>
<text x="132.00" y="333.96" font-size="10.6" font-weight="normal" textLength="20.00" lengthAdjust="spacingAndGlyphs">IL-6</text>
<rect x="109.45" y="342.13" width="14.60" height="7.10" fill="url(#pIL10)" stroke="#000" stroke-width="1.25"/>
<text x="132.00" y="349.73" font-size="10.6" font-weight="normal" textLength="26.00" lengthAdjust="spacingAndGlyphs">IL-10</text>
<rect x="109.45" y="357.90" width="14.60" height="7.10" fill="url(#pIL12)" stroke="#000" stroke-width="1.25"/>
<text x="132.00" y="365.50" font-size="10.6" font-weight="normal" textLength="44.60" lengthAdjust="spacingAndGlyphs">IL-12p70</text>
<rect x="109.45" y="373.67" width="14.60" height="7.10" fill="#fff" stroke="#000" stroke-width="1.25"/>
<text x="132.00" y="381.27" font-size="10.6" font-weight="normal" textLength="22.80" lengthAdjust="spacingAndGlyphs">IFN<tspan font-family="Liberation Serif" font-size="10.5">&#947;</tspan></text>
<rect x="109.45" y="389.44" width="14.60" height="7.10" fill="#000" stroke="#000" stroke-width="1.25"/>
<text x="132.00" y="397.04" font-size="10.6" font-weight="normal" textLength="27.60" lengthAdjust="spacingAndGlyphs">TNF<tspan font-family="Liberation Serif" font-size="11.5">&#945;</tspan></text>
<rect x="109.45" y="405.21" width="14.60" height="7.10" fill="url(#pGM)" stroke="#000" stroke-width="1.25"/>
<text x="132.00" y="412.81" font-size="10.6" font-weight="normal" textLength="43.00" lengthAdjust="spacingAndGlyphs">GM-CSF</text>
<rect x="109.45" y="420.98" width="14.60" height="7.10" fill="url(#pIL4)" stroke="#000" stroke-width="1.25"/>
<text x="132.00" y="428.58" font-size="10.6" font-weight="normal" textLength="20.00" lengthAdjust="spacingAndGlyphs">IL-4</text>
<rect x="109.45" y="436.75" width="14.60" height="7.10" fill="url(#pIL17)" stroke="#000" stroke-width="1.25"/>
<text x="132.00" y="444.35" font-size="10.6" font-weight="normal" textLength="25.80" lengthAdjust="spacingAndGlyphs">IL-17</text>
<text x="1.80" y="585.50" font-size="16.0" font-weight="bold" textLength="11.60" lengthAdjust="spacingAndGlyphs">D</text>
<line x1="55.80" y1="587.60" x2="55.80" y2="770.20" stroke="#3a3a3a" stroke-width="1.4"/>
<line x1="55.80" y1="765.00" x2="322.30" y2="765.00" stroke="#3a3a3a" stroke-width="1.4"/>
<line x1="50.80" y1="765.00" x2="55.80" y2="765.00" stroke="#3a3a3a" stroke-width="1.3"/>
<text x="48.40" y="768.90" font-size="11.2" font-weight="bold" text-anchor="end" textLength="6.75" lengthAdjust="spacingAndGlyphs">0</text>
<line x1="50.80" y1="722.88" x2="55.80" y2="722.88" stroke="#3a3a3a" stroke-width="1.3"/>
<text x="48.40" y="726.77" font-size="11.2" font-weight="bold" text-anchor="end" textLength="13.50" lengthAdjust="spacingAndGlyphs">25</text>
<line x1="50.80" y1="680.75" x2="55.80" y2="680.75" stroke="#3a3a3a" stroke-width="1.3"/>
<text x="48.40" y="684.65" font-size="11.2" font-weight="bold" text-anchor="end" textLength="13.50" lengthAdjust="spacingAndGlyphs">50</text>
<line x1="50.80" y1="638.62" x2="55.80" y2="638.62" stroke="#3a3a3a" stroke-width="1.3"/>
<text x="48.40" y="642.52" font-size="11.2" font-weight="bold" text-anchor="end" textLength="13.50" lengthAdjust="spacingAndGlyphs">75</text>
<line x1="50.80" y1="596.50" x2="55.80" y2="596.50" stroke="#3a3a3a" stroke-width="1.3"/>
<text x="48.40" y="600.40" font-size="11.2" font-weight="bold" text-anchor="end" textLength="20.25" lengthAdjust="spacingAndGlyphs">100</text>
<line x1="55.80" y1="765.00" x2="55.80" y2="770.00" stroke="#3a3a3a" stroke-width="1.3"/>
<text x="55.80" y="783.60" font-size="10.8" font-weight="bold" text-anchor="middle">0</text>
<line x1="144.47" y1="765.00" x2="144.47" y2="770.00" stroke="#3a3a3a" stroke-width="1.3"/>
<text x="144.47" y="783.60" font-size="10.8" font-weight="bold" text-anchor="middle">20</text>
<line x1="233.13" y1="765.00" x2="233.13" y2="770.00" stroke="#3a3a3a" stroke-width="1.3"/>
<text x="233.13" y="783.60" font-size="10.8" font-weight="bold" text-anchor="middle">40</text>
<line x1="321.80" y1="765.00" x2="321.80" y2="770.00" stroke="#3a3a3a" stroke-width="1.3"/>
<text x="321.80" y="783.60" font-size="10.8" font-weight="bold" text-anchor="middle">60</text>
<text x="20.30" y="677.20" font-size="12.0" font-weight="bold" text-anchor="middle" textLength="103.00" lengthAdjust="spacing" transform="rotate(-90 20.30 677.20)">Percent survival</text>
<text x="190.00" y="800.50" font-size="11.4" font-weight="bold" text-anchor="middle" textLength="102.00" lengthAdjust="spacing">Time after tumor</text>
<text x="189.10" y="813.80" font-size="11.4" font-weight="bold" text-anchor="middle" textLength="116.50" lengthAdjust="spacing">implantation (days)</text>
<text x="221.90" y="703.15" font-size="15.0" font-weight="bold" text-anchor="middle">*</text>
<path d="M55.80 596.50 H117.87 V611.82 H122.30 V619.48 H131.17 V627.14 H140.03 V634.80 H144.47 V642.45 H148.90 V657.77 H157.77 V673.09 H162.20 V703.73 H175.50 V726.70 H193.23 V734.36 H206.53 V749.68 H210.97 V757.34 H321.80" stroke="#1a1a1a" stroke-width="1.25" fill="none"/>
<path d="M55.80 596.50 H126.73 V611.82 H144.47 V642.45 H157.77 V657.77 H175.50 V688.41 H179.93 V719.05 H188.80 V734.36 H321.80" stroke="#1a1a1a" stroke-width="1.25" fill="none"/>
<path d="M55.80 596.50 H131.17 V611.82 H144.47 V627.14 H157.77 V642.45 H175.50 V657.77 H179.93 V688.41 H206.53 V703.73 H219.83 V734.36 H321.80" stroke="#1a1a1a" stroke-width="1.25" fill="none"/>
<circle cx="117.87" cy="611.82" r="3.55" fill="#111"/>
<circle cx="122.30" cy="619.48" r="3.55" fill="#111"/>
<circle cx="131.17" cy="627.14" r="3.55" fill="#111"/>
<circle cx="140.03" cy="634.80" r="3.55" fill="#111"/>
<circle cx="144.47" cy="642.45" r="3.55" fill="#111"/>
<circle cx="148.90" cy="657.77" r="3.55" fill="#111"/>
<circle cx="157.77" cy="673.09" r="3.55" fill="#111"/>
<circle cx="162.20" cy="703.73" r="3.55" fill="#111"/>
<circle cx="175.50" cy="726.70" r="3.55" fill="#111"/>
<circle cx="193.23" cy="734.36" r="3.55" fill="#111"/>
<circle cx="206.53" cy="749.68" r="3.55" fill="#111"/>
<circle cx="210.97" cy="757.34" r="3.55" fill="#111"/>
<circle cx="321.80" cy="757.34" r="3.55" fill="#111"/>
<path d="M126.73 607.90 L130.48 615.02 L122.98 615.02 Z" fill="#111"/>
<path d="M144.47 638.54 L148.22 645.66 L140.72 645.66 Z" fill="#111"/>
<path d="M157.77 653.85 L161.52 660.98 L154.02 660.98 Z" fill="#111"/>
<path d="M175.50 684.49 L179.25 691.62 L171.75 691.62 Z" fill="#111"/>
<path d="M179.93 715.13 L183.68 722.25 L176.18 722.25 Z" fill="#111"/>
<path d="M188.80 730.44 L192.55 737.57 L185.05 737.57 Z" fill="#111"/>
<path d="M321.80 730.44 L325.55 737.57 L318.05 737.57 Z" fill="#111"/>
<path d="M131.17 607.57 L135.42 611.82 L131.17 616.07 L126.92 611.82 Z" fill="#111"/>
<path d="M144.47 622.89 L148.72 627.14 L144.47 631.39 L140.22 627.14 Z" fill="#111"/>
<path d="M157.77 638.20 L162.02 642.45 L157.77 646.70 L153.52 642.45 Z" fill="#111"/>
<path d="M175.50 653.52 L179.75 657.77 L175.50 662.02 L171.25 657.77 Z" fill="#111"/>
<path d="M179.93 684.16 L184.18 688.41 L179.93 692.66 L175.68 688.41 Z" fill="#111"/>
<path d="M206.53 699.48 L210.78 703.73 L206.53 707.98 L202.28 703.73 Z" fill="#111"/>
<path d="M219.83 730.11 L224.08 734.36 L219.83 738.61 L215.58 734.36 Z" fill="#111"/>
<path d="M242.00 730.11 L246.25 734.36 L242.00 738.61 L237.75 734.36 Z" fill="#111"/>
<path d="M321.80 730.11 L326.05 734.36 L321.80 738.61 L317.55 734.36 Z" fill="#111"/>
<line x1="176.20" y1="591.60" x2="196.00" y2="591.60" stroke="#1a1a1a" stroke-width="1.25"/>
<circle cx="186.20" cy="591.60" r="3.6" fill="#111"/>
<text x="206.30" y="595.60" font-size="11.8" font-weight="normal" textLength="42.00" lengthAdjust="spacingAndGlyphs">Control</text>
<line x1="176.20" y1="611.80" x2="196.00" y2="611.80" stroke="#1a1a1a" stroke-width="1.25"/>
<path d="M186.20 607.72 L190.10 615.13 L182.30 615.13 Z" fill="#111"/>
<text x="206.30" y="615.80" font-size="11.8" font-weight="normal" textLength="142.80" lengthAdjust="spacingAndGlyphs">R848 3mg/Kg single dose</text>
<line x1="176.20" y1="632.00" x2="196.00" y2="632.00" stroke="#1a1a1a" stroke-width="1.25"/>
<path d="M186.20 627.50 L190.70 632.00 L186.20 636.50 L181.70 632.00 Z" fill="#111"/>
<text x="206.30" y="636.00" font-size="11.8" font-weight="normal" textLength="101.50" lengthAdjust="spacingAndGlyphs">R848 3mg/Kg q1w</text>
</svg>
</body></html>
